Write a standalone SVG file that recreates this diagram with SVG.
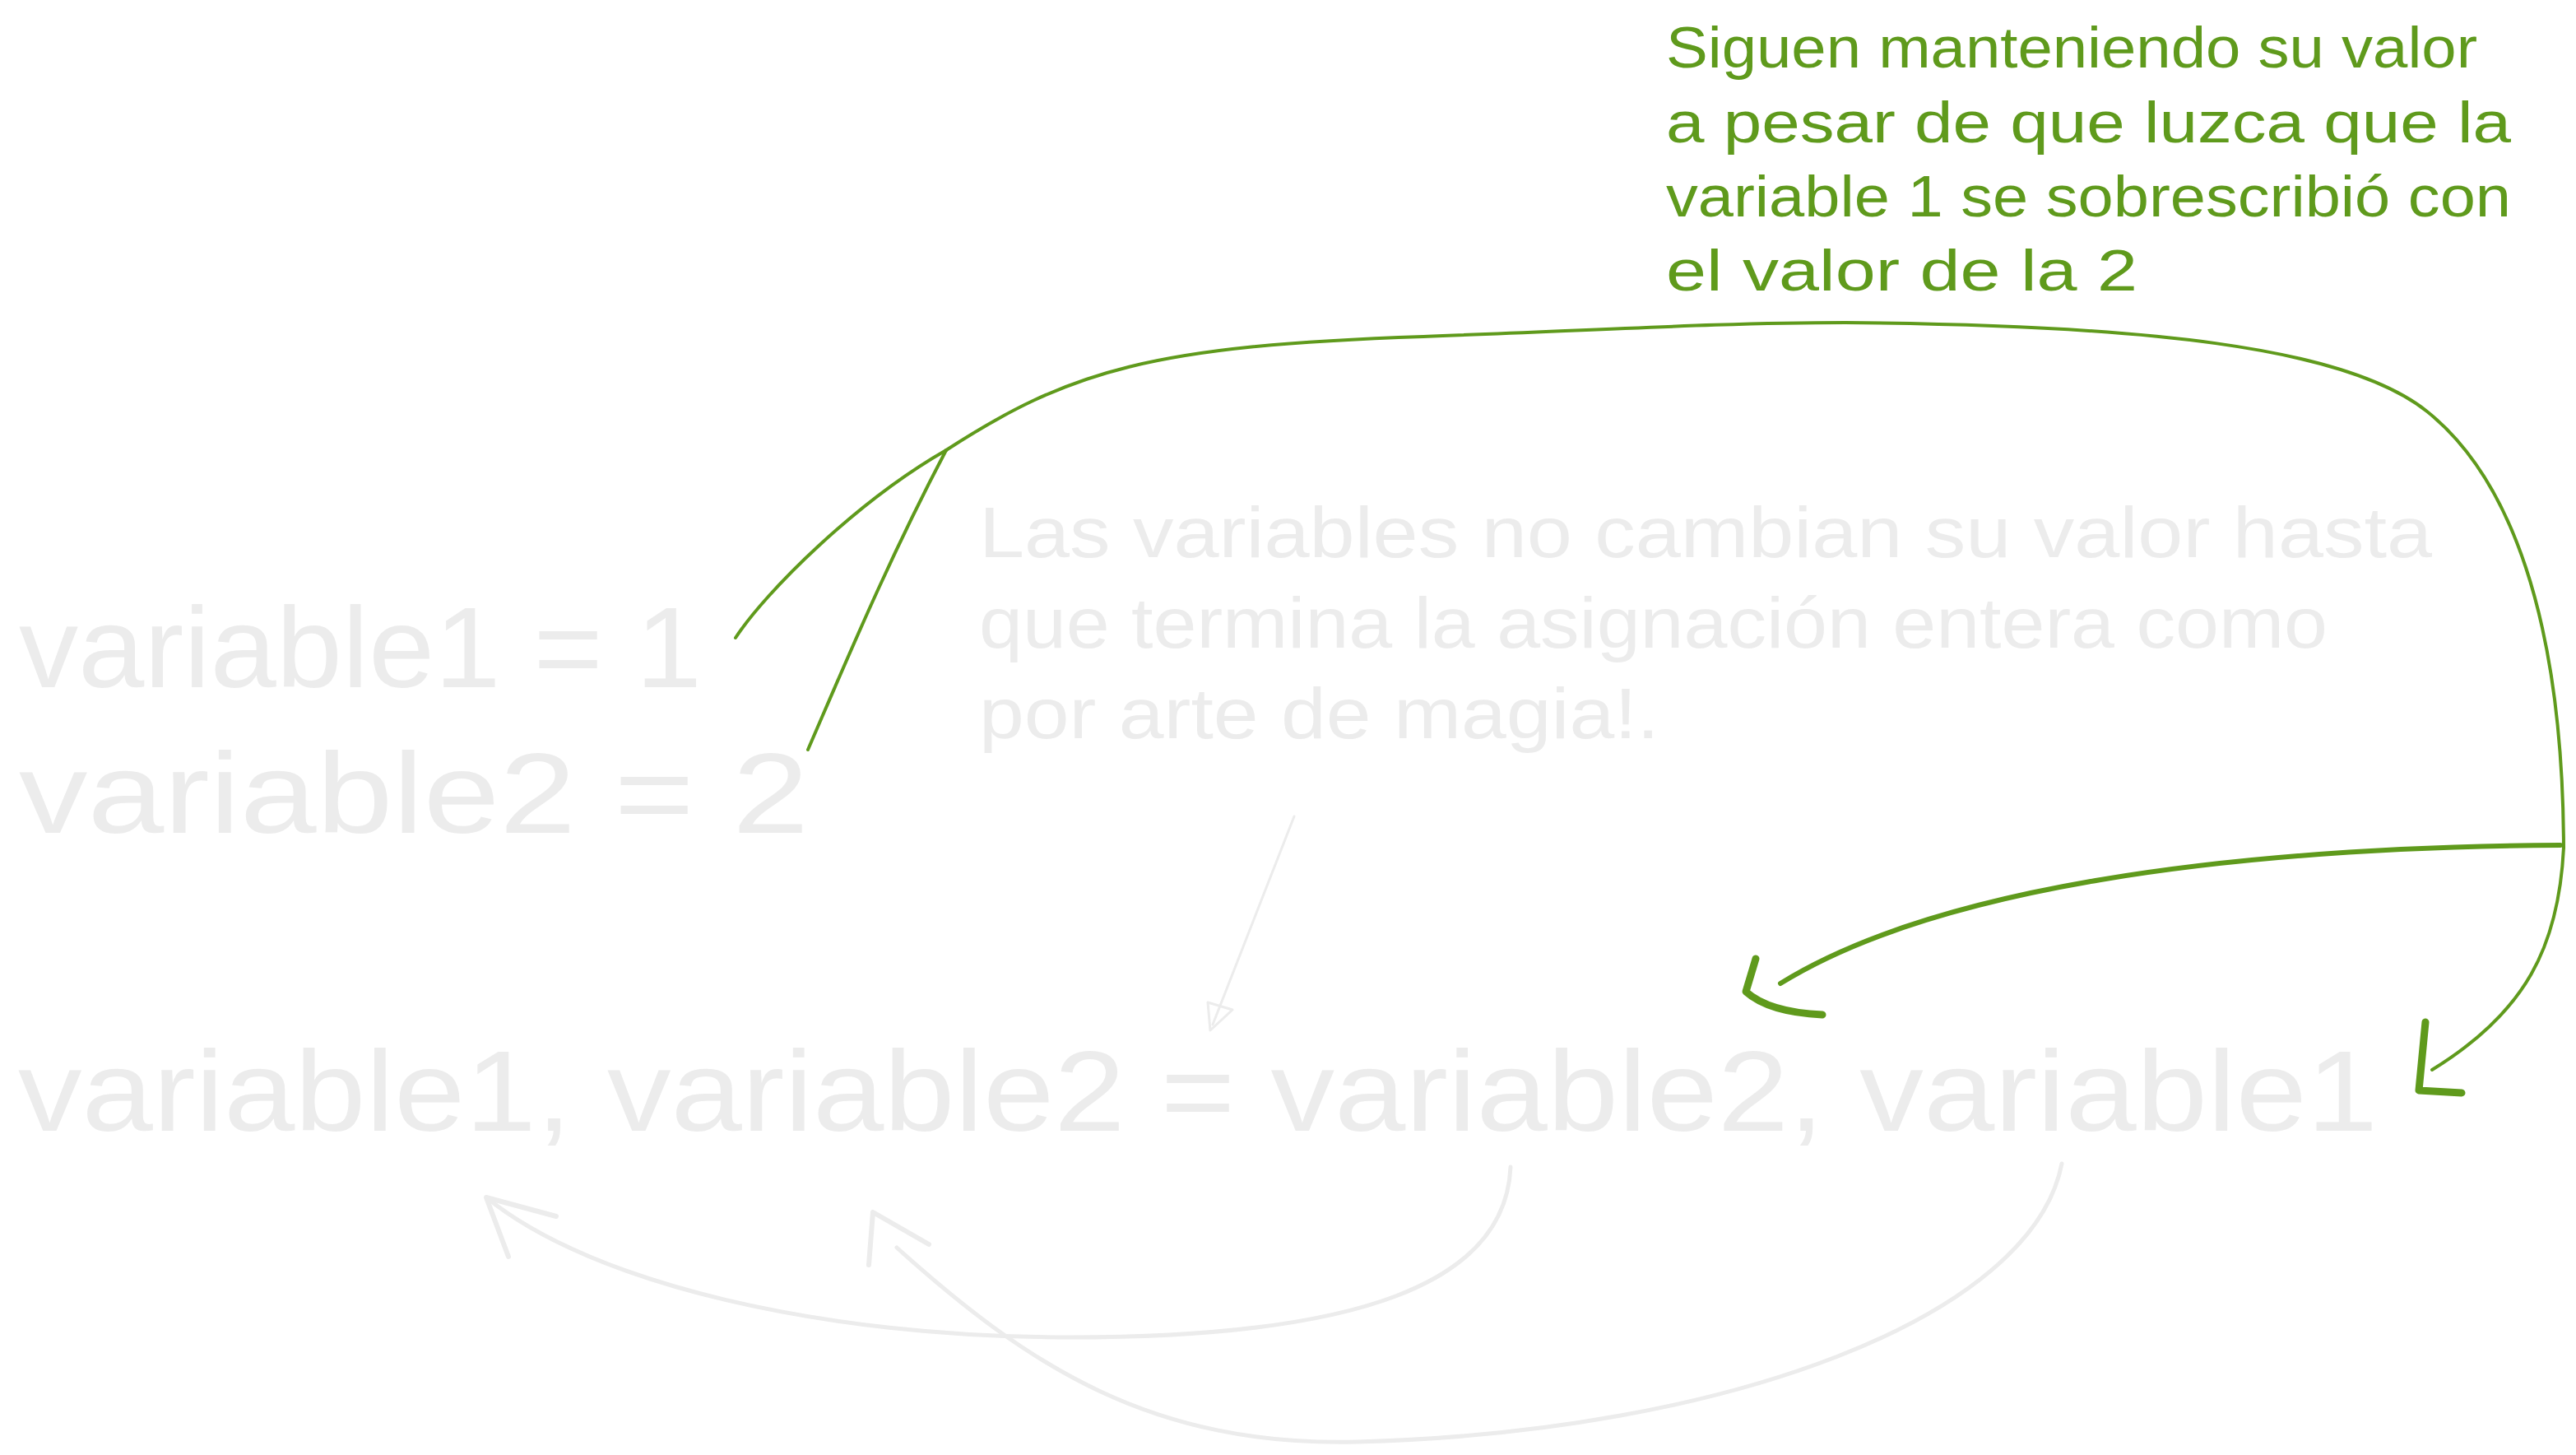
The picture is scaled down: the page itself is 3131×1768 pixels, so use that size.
<svg xmlns="http://www.w3.org/2000/svg" width="3131" height="1768" viewBox="0 0 3131 1768">
<style>
.bg{fill:#ffffff}
.gt{font-family:"Liberation Sans",Arial,sans-serif;fill:#5f9a1c}
.lt{font-family:"Liberation Sans",Arial,sans-serif;fill:#ececec}
.g{fill:none;stroke:#5f9a1c;stroke-linecap:round;stroke-linejoin:round}
.l{fill:none;stroke:#ececec;stroke-linecap:round;stroke-linejoin:round}
</style>
<rect class="bg" x="0" y="0" width="3131" height="1768"/>
<g id="note-green">
<text class="gt" font-size="70" x="2025" y="82" textLength="986" lengthAdjust="spacingAndGlyphs">Siguen manteniendo su valor</text>
<text class="gt" font-size="70" x="2025" y="173" textLength="1027" lengthAdjust="spacingAndGlyphs">a pesar de que luzca que la</text>
<text class="gt" font-size="70" x="2025" y="263" textLength="1027" lengthAdjust="spacingAndGlyphs">variable 1 se sobrescribió con</text>
<text class="gt" font-size="70" x="2025" y="353" textLength="573" lengthAdjust="spacingAndGlyphs">el valor de la 2</text>
</g>
<g id="assign1">
<text class="lt" font-size="140" x="23" y="835" textLength="830" lengthAdjust="spacingAndGlyphs">variable1 = 1</text>
</g>
<g id="assign2">
<text class="lt" font-size="140" x="23" y="1012" textLength="960" lengthAdjust="spacingAndGlyphs">variable2 = 2</text>
</g>
<g id="note-grey">
<text class="lt" font-size="88" x="1190" y="677" textLength="1766" lengthAdjust="spacingAndGlyphs">Las variables no cambian su valor hasta</text>
<text class="lt" font-size="88" x="1190" y="787" textLength="1639" lengthAdjust="spacingAndGlyphs">que termina la asignación entera como</text>
<text class="lt" font-size="88" x="1190" y="897" textLength="827" lengthAdjust="spacingAndGlyphs">por arte de magia!.</text>
</g>
<g id="swap">
<text class="lt" font-size="140" x="22" y="1374" textLength="2868" lengthAdjust="spacingAndGlyphs">variable1, variable2 = variable2, variable1</text>
</g>
<g id="connectors">
<path class="g" stroke-width="4" d="M894,775 C930,720 1040,610 1150,547"/>
<path class="g" stroke-width="4" d="M982,911 C1030,800 1080,680 1150,547"/>
<path class="g" stroke-width="4" d="M1150,547 C1300,450 1400,420 1730,409 C1964,400 2100,392 2243,392 C2600,395 2850,420 2950,500 C3050,580 3115,750 3116,1030"/>
<path class="g" stroke-width="4" d="M3116,1030 C3110,1150 3070,1230 2956,1300"/>
<path class="g" stroke-width="9" d="M2948,1242 L2940,1325 L2992,1328"/>
<path class="g" stroke-width="6" d="M3112,1027 C2700,1030 2350,1080 2164,1195"/>
<path class="g" stroke-width="9" d="M2134,1165 L2122,1205 Q2150,1230 2215,1233"/>
<path class="l" stroke-width="3" d="M1573,992 L1474,1245"/>
<path class="l" stroke-width="3" fill="#efefef" d="M1468,1218 L1498,1227 L1471,1252 Z"/>
<path class="l" stroke-width="5" d="M1836,1418 C1830,1560 1650,1625 1300,1625 C1000,1625 720,1560 591,1455"/>
<path class="l" stroke-width="6" d="M676,1478 L591,1455 L618,1527"/>
<path class="l" stroke-width="5" d="M2506,1414 C2470,1600 2100,1740 1650,1752 C1400,1758 1250,1660 1090,1516"/>
<path class="l" stroke-width="6" d="M1129,1512 L1061,1473 L1056,1537"/>
</g>
</svg>
